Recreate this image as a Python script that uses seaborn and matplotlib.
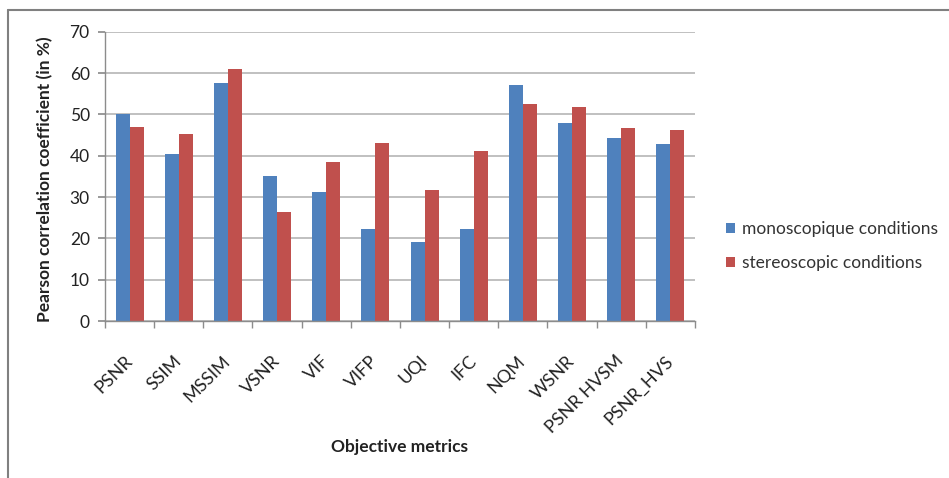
import matplotlib
matplotlib.use("Agg")
import matplotlib.pyplot as plt
from matplotlib.lines import Line2D
from matplotlib.patches import Patch
import numpy as np
import pandas as pd
import seaborn as sns

metrics = ["PSNR", "SSIM", "MSSIM", "VSNR", "VIF", "VIFP", "UQI", "IFC",
           "NQM", "WSNR", "PSNR HVSM", "PSNR_HVS"]
mono = [50.0, 40.4, 57.5, 35.0, 31.2, 22.3, 19.2, 22.3, 57.1, 47.9, 44.4, 42.8]
stereo = [47.0, 45.2, 61.0, 26.4, 38.4, 43.0, 31.7, 41.2, 52.6, 51.7, 46.8, 46.3]
series = ["monoscopique conditions", "stereoscopic conditions"]
colors = ["#4F81BD", "#C0504D"]

df = pd.DataFrame({
    "metric": metrics * 2,
    "value": mono + stereo,
    "condition": [series[0]] * len(metrics) + [series[1]] * len(metrics),
})

sns.set_theme(style="white")
plt.rcParams["font.family"] = ["Lato", "DejaVu Sans"]

fig = plt.figure(figsize=(9.49, 4.78), dpi=100)
ax = fig.add_axes([105 / 949, 1 - 321 / 478, 590 / 949, (321 - 31.7) / 478])

sns.barplot(data=df, x="metric", y="value", hue="condition", order=metrics,
            hue_order=series, palette=colors, width=0.57, gap=0,
            saturation=1, linewidth=0, ax=ax, legend=False)

ax.set_xlim(-0.5, len(metrics) - 0.5)
ax.set_ylim(0, 70)
ax.set_yticks(np.arange(0, 71, 10))
ax.yaxis.grid(True, color="#B5B5B5", linewidth=1.2)
ax.set_axisbelow(True)
for s in ["top", "right"]:
    ax.spines[s].set_visible(False)
for s in ["left", "bottom"]:
    ax.spines[s].set_color("#8C8C8C")
    ax.spines[s].set_linewidth(1.0)

# category ticks sit between groups, labels sit under each group
ax.set_xticks(np.arange(-0.5, len(metrics)), minor=True)
ax.tick_params(axis="x", which="minor", length=5, color="#8C8C8C", bottom=True)
ax.tick_params(axis="x", which="major", length=0, pad=27)
ax.tick_params(axis="y", length=5, color="#8C8C8C", left=True, labelsize=12.5,
               labelcolor="#222222", pad=6)
ax.set_xticks(range(len(metrics)))
ax.set_xticklabels(metrics, rotation=45, ha="right", va="center",
                   rotation_mode="anchor", fontsize=13, color="#222222")

ax.set_xlabel("Objective metrics", fontsize=12.5, fontweight="bold",
              color="#222222", va="center")
ax.xaxis.set_label_coords(0.5, (321 - 447) / (321 - 31.7))
ax.set_ylabel("Pearson correlation coefficient (in %)", fontsize=12.5,
              fontweight="bold", color="#222222", va="center")
ax.yaxis.set_label_coords((45 - 105) / 590, 0.49)

handles = [Patch(facecolor=c, edgecolor="none") for c in colors]
fig.legend(handles, series, loc="center left",
           bbox_to_anchor=(710 / 949, 1 - 246 / 478), frameon=False,
           fontsize=12.5, handlelength=0.55, handleheight=0.55,
           handletextpad=0.4, labelspacing=1.05, labelcolor="#333333")

# outer frame lines
fig.add_artist(Line2D([8 / 949, 1.0], [1 - 10 / 478, 1 - 10 / 478],
                      transform=fig.transFigure, color="#808080", linewidth=1.5))
fig.add_artist(Line2D([8 / 949, 8 / 949], [0.0, 1 - 10 / 478],
                      transform=fig.transFigure, color="#808080", linewidth=1.5))

fig.savefig("out.png", dpi=100)
